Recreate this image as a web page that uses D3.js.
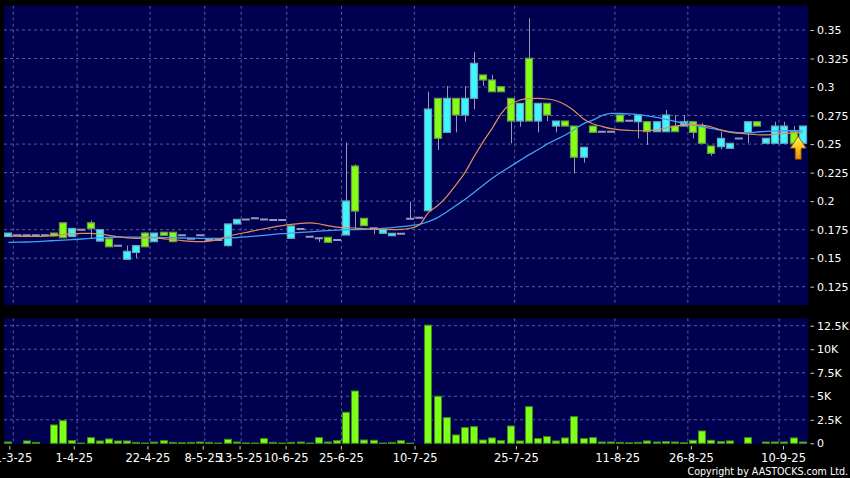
<!DOCTYPE html>
<html><head><meta charset="utf-8">
<script src="https://cdn.jsdelivr.net/npm/d3@7/dist/d3.min.js"></script>
<style>html,body{margin:0;padding:0;background:#000;}svg{display:block;}</style>
</head><body>
<svg id="c" width="850" height="478"></svg>
<script>
// ---------- DATA ----------
const openP  = [.169,.170,.170,.170,.170,.172,.181,.169,.175,.181,.165,.167,.161,.149,.155,.172,.1645,.1727,.1727,.170,.167,.170,.166,.166,.161,.180,.184,.185,.184,.1835,.1835,.1674,.1756,.1688,.1674,.1683,.1659,.1703,.2308,.1849,.1762,.1718,.1697,.1715,.1845,.1855,.1916,.2901,.2603,.2901,.2755,.2901,.3106,.3062,.3003,.2901,.2702,.3252,.2702,.2857,.2658,.2702,.2658,.2385,.2658,.2609,.2609,.2755,.2705,.2696,.2696,.2609,.2609,.2658,.2658,.2696,.2658,.2483,.2477,.2463,.255,.2603,.2696,.2507,.2507,.2507,.2609,.2507];
const highP  = [.172,.170,.170,.170,.170,.172,.181,.176,.175,.183,.175,.167,.161,.161,.161,.173,.172,.1727,.1727,.170,.167,.170,.166,.166,.180,.184,.184,.185,.184,.1835,.1835,.1782,.1756,.1688,.1674,.1683,.1659,.2512,.2323,.1849,.1762,.1753,.1718,.1715,.1995,.1855,.2959,.2901,.3009,.2901,.3009,.3305,.3106,.3106,.3003,.2901,.2857,.3603,.2857,.2857,.2702,.2702,.2658,.2472,.2658,.2609,.2609,.2755,.2705,.2755,.2696,.2696,.2799,.2755,.2755,.2696,.2682,.2483,.2609,.2507,.255,.2696,.2696,.255,.2696,.2696,.2658,.2658];
const lowP   = [.169,.170,.170,.170,.170,.1695,.168,.169,.175,.167,.165,.160,.161,.149,.150,.160,.1645,.170,.1645,.170,.167,.170,.166,.166,.160,.180,.184,.185,.184,.1835,.1835,.1674,.1756,.1688,.164,.1639,.1659,.1703,.1753,.1785,.171,.1718,.1697,.1715,.1845,.1855,.1916,.2448,.2603,.2603,.2696,.2805,.301,.2959,.2959,.2507,.2652,.2702,.2603,.2702,.2603,.2658,.2244,.2337,.2603,.2609,.2609,.2696,.2705,.255,.2492,.2609,.2609,.2609,.2658,.255,.2507,.2398,.2454,.2463,.255,.2507,.2658,.2507,.2507,.2507,.2507,.2507];
const closeP = [.172,.170,.170,.170,.170,.1695,.168,.176,.175,.176,.175,.160,.161,.156,.161,.160,.172,.170,.1645,.170,.167,.170,.166,.166,.180,.184,.184,.185,.184,.1835,.1835,.1782,.1756,.1688,.1674,.1639,.1659,.2001,.1913,.1785,.1762,.1753,.1718,.1715,.1845,.1855,.2807,.2551,.2901,.2755,.2901,.3208,.3062,.2959,.2959,.2702,.2857,.2702,.2857,.2755,.2702,.2658,.2385,.2472,.2603,.2609,.2609,.2696,.2705,.2755,.2609,.2696,.2755,.2609,.2696,.2603,.2507,.2419,.255,.2507,.255,.2696,.2658,.255,.2658,.2658,.2507,.2658];
const volume = [140,0,250,100,0,1950,2410,280,30,600,250,460,250,250,100,30,130,280,100,60,100,140,100,30,430,140,40,30,500,100,30,100,140,30,600,140,280,3300,5560,350,320,30,100,280,20,0,12560,5000,2730,890,1670,1770,350,570,280,1840,250,3900,500,710,250,570,2830,500,600,140,140,100,60,100,250,140,180,140,60,320,1310,320,180,250,0,600,0,140,140,140,570,140];
const maShort = [.1694,.1692,.1690,.1690,.1692,.1697,.1706,.1713,.1717,.1718,.1712,.1700,.1688,.1678,.1674,.1678,.1678,.1670,.1662,.1654,.1648,.1645,.1650,.1665,.1690,.1710,.1725,.1742,.1758,.1772,.1785,.1796,.1805,.1810,.1802,.1785,.1772,.1768,.1764,.1758,.1754,.1752,.1750,.1752,.1762,.1790,.1900,.1960,.2040,.2140,.2250,.2390,.2520,.2640,.2770,.2850,.2885,.2898,.2900,.2895,.2880,.2845,.2790,.2720,.2678,.2655,.2635,.2625,.2620,.2617,.2617,.2625,.2640,.2655,.2667,.2668,.2667,.2650,.2625,.2605,.2595,.2588,.2582,.2580,.2588,.2594,.2598,.2600];
const maLong = [.1638,.1640,.1642,.1645,.1650,.1654,.1658,.1663,.1668,.1674,.1680,.1683,.1685,.1685,.1685,.1684,.1682,.1680,.1679,.1677,.1675,.1674,.1674,.1674,.1677,.1681,.1686,.1693,.1700,.1708,.1715,.1720,.1726,.1731,.1737,.1742,.1746,.1749,.1751,.1753,.1756,.1762,.1768,.1776,.1786,.1797,.1820,.1855,.1905,.1960,.2015,.2075,.2140,.2200,.2255,.2305,.2355,.2405,.2450,.2500,.2540,.2580,.2630,.2680,.2710,.2750,.2770,.2768,.2764,.2758,.2748,.2735,.2718,.2700,.2684,.2668,.2652,.2638,.2622,.2608,.2600,.2600,.2606,.2612,.2616,.2617,.2617,.2617];
const tickDays   = [0,7,15,21,25,30,36,44,55,66,74,84];
const tickLabels = ["21-3-25","1-4-25","22-4-25","8-5-25","13-5-25","10-6-25","25-6-25","10-7-25","25-7-25","11-8-25","26-8-25","10-9-25"];
const priceTicks = [0.125,0.15,0.175,0.2,0.225,0.25,0.275,0.3,0.325,0.35];
const volTicks   = [0,2500,5000,7500,10000,12500];
const volTickLabels = ["0","2.5K","5K","7.5K","10K","12.5K"];

// ---------- CHART ----------
const n = closeP.length;
const svg = d3.select('#c');
const FONT = "'DejaVu Sans', Verdana, sans-serif";
const NAVY = '#000050', GRID = '#5a5a98';

const P = {x0:4, x1:808, y0:5.7, y1:305};
const V = {x0:4, x1:808, y0:318.3, y1:444};

const x = d3.scaleLinear().domain([0, n-1]).range([8.4, 802.7]);
const yP = d3.scaleLinear().domain([0.125, 0.35]).range([286.7, 30]);
const yV = d3.scaleLinear().domain([0, 12500]).range([443.3, 325.7]);
const tickX = d3.scaleLinear().domain([0, 84]).range([9.3, 783]);
const gridX = d3.scaleLinear().domain([0, 84]).range([13.3, 779]);

svg.append('rect').attr('width',850).attr('height',478).attr('fill','#000');

const defs = svg.append('defs');
defs.append('clipPath').attr('id','clipP').append('rect')
  .attr('x',P.x0).attr('y',P.y0).attr('width',P.x1-P.x0).attr('height',P.y1-P.y0);
defs.append('clipPath').attr('id','clipV').append('rect')
  .attr('x',V.x0).attr('y',V.y0).attr('width',V.x1-V.x0).attr('height',V.y1-V.y0);
const grad = defs.append('linearGradient').attr('id','arrowGrad').attr('x1',0).attr('y1',0).attr('x2',0).attr('y2',1);
grad.append('stop').attr('offset','0%').attr('stop-color','#fff27a');
grad.append('stop').attr('offset','50%').attr('stop-color','#ffc21a');
grad.append('stop').attr('offset','100%').attr('stop-color','#e88a00');

// panels
[P,V].forEach(p=>{
  svg.append('rect').attr('x',p.x0).attr('y',p.y0).attr('width',p.x1-p.x0).attr('height',p.y1-p.y0).attr('fill',NAVY);
});

// grids
const gP = svg.append('g').attr('clip-path','url(#clipP)');
const gV = svg.append('g').attr('clip-path','url(#clipV)');
gP.selectAll('line.h').data(priceTicks).join('line')
  .attr('x1',P.x0).attr('x2',P.x1).attr('y1',d=>yP(d)).attr('y2',d=>yP(d))
  .attr('stroke',GRID).attr('stroke-dasharray','3,3').attr('stroke-width',1);
gP.selectAll('line.v').data(tickDays).join('line')
  .attr('x1',d=>gridX(d)).attr('x2',d=>gridX(d)).attr('y1',P.y0).attr('y2',P.y1)
  .attr('stroke',GRID).attr('stroke-dasharray','3,3').attr('stroke-width',1);
gV.selectAll('line.h').data(volTicks.slice(1)).join('line')
  .attr('x1',V.x0).attr('x2',V.x1).attr('y1',d=>yV(d)).attr('y2',d=>yV(d))
  .attr('stroke',GRID).attr('stroke-dasharray','3,3').attr('stroke-width',1);
gV.selectAll('line.v').data(tickDays).join('line')
  .attr('x1',d=>gridX(d)).attr('x2',d=>gridX(d)).attr('y1',V.y0).attr('y2',V.y1)
  .attr('stroke',GRID).attr('stroke-dasharray','3,3').attr('stroke-width',1);

// candles
const idx = d3.range(n);
const BW = 8;
const upFill='#3ef6ff', upStroke='#6aa6b4', dnFill='#84ff14', dnStroke='#6c9c48';
const cg = gP.append('g');
cg.selectAll('line.w').data(idx).join('line')
  .attr('x1',i=>Math.round(x(i))+0.5).attr('x2',i=>Math.round(x(i))+0.5)
  .attr('y1',i=>yP(highP[i])).attr('y2',i=>yP(lowP[i]))
  .attr('stroke','#9a9aae').attr('stroke-width',1);
cg.selectAll('rect.b').data(idx.filter(i=>openP[i]!==closeP[i])).join('rect')
  .attr('x',i=>Math.round(x(i))-BW/2+0.5)
  .attr('y',i=>yP(Math.max(openP[i],closeP[i])))
  .attr('width',BW-1)
  .attr('height',i=>Math.max(1,yP(Math.min(openP[i],closeP[i]))-yP(Math.max(openP[i],closeP[i]))))
  .attr('fill',i=>closeP[i]>openP[i]?upFill:dnFill)
  .attr('stroke',i=>closeP[i]>openP[i]?upStroke:dnStroke)
  .attr('stroke-width',1.2);
cg.selectAll('line.d').data(idx.filter(i=>openP[i]===closeP[i])).join('line')
  .attr('x1',i=>x(i)-BW/2).attr('x2',i=>x(i)+BW/2)
  .attr('y1',i=>yP(closeP[i])).attr('y2',i=>yP(closeP[i]))
  .attr('stroke','#9a9ab4').attr('stroke-width',2);

// moving averages
const line = arr => d3.line().x((d,i)=>x(i)).y(d=>yP(d)).curve(d3.curveMonotoneX)(arr);
gP.append('path').attr('d',line(maLong)).attr('fill','none').attr('stroke','#3ea2f2').attr('stroke-width',1.3);
gP.append('path').attr('d',line(maShort)).attr('fill','none').attr('stroke','#e48c5c').attr('stroke-width',1.2);

// arrow marker under the last candle
const last = n-1;
const ax = x(last)-4.5, ay = yP(lowP[last])-7;
const arrow = d3.path();
arrow.moveTo(ax, ay); arrow.lineTo(ax+8, ay+12); arrow.lineTo(ax+3, ay+12);
arrow.lineTo(ax+3, ay+23); arrow.lineTo(ax-3, ay+23); arrow.lineTo(ax-3, ay+12);
arrow.lineTo(ax-8, ay+12); arrow.closePath();
svg.append('path').attr('d',arrow.toString()).attr('fill','url(#arrowGrad)').attr('stroke','#7a4a00').attr('stroke-width',0.8);

// volume
gV.selectAll('rect.v').data(idx.filter(i=>volume[i]>0)).join('rect')
  .attr('x',i=>Math.round(x(i))-BW/2+0.5)
  .attr('y',i=>yV(volume[i]))
  .attr('width',BW-1)
  .attr('height',i=>Math.max(1,yV(0)-yV(volume[i])))
  .attr('fill','#7dff1a').attr('stroke','#3f8c14').attr('stroke-width',1);

// axes
function styleAxis(g){
  g.select('.domain').remove();
  g.selectAll('line').attr('stroke','#c8c8c8');
  g.selectAll('text').attr('fill','#ffffff').attr('font-family',FONT);
}
const axP = svg.append('g').attr('transform','translate(810.5,0)')
  .call(d3.axisRight(yP).tickValues(priceTicks).tickSize(3.5).tickPadding(3).tickFormat(d=>String(+d.toFixed(3))));
styleAxis(axP); axP.selectAll('text').attr('font-size',11);
const axV = svg.append('g').attr('transform','translate(810.5,0)')
  .call(d3.axisRight(yV).tickValues(volTicks).tickSize(3.5).tickPadding(3).tickFormat((d,i)=>volTickLabels[i]));
styleAxis(axV); axV.selectAll('text').attr('font-size',11);
const axX = svg.append('g').attr('transform','translate(0,446)')
  .call(d3.axisBottom(tickX).tickValues(tickDays).tickSize(3.5).tickPadding(4).tickFormat((d,i)=>tickLabels[i]));
styleAxis(axX); axX.selectAll('text').attr('font-size',11.5);

svg.append('text').attr('x',848).attr('y',474.5).attr('text-anchor','end')
  .attr('fill','#fff').attr('font-family',"'DejaVu Sans Condensed', 'DejaVu Sans', sans-serif").attr('font-size',10.6)
  .text('Copyright by AASTOCKS.com Ltd.');
</script>
</body></html>
